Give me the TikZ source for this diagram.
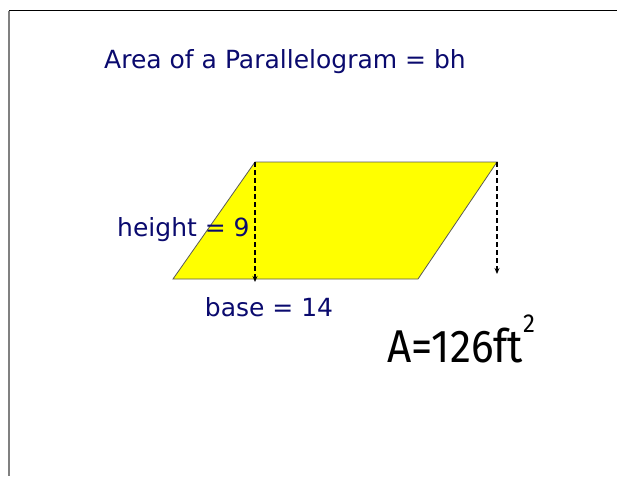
\documentclass[tikz,border=0pt]{standalone}
\usepackage{fontspec}
\usetikzlibrary{arrows.meta}
\setmainfont{DejaVu Sans}
\newfontfamily\handfont{Fira Sans}
\definecolor{navytext}{RGB}{10,10,110}
\definecolor{parafill}{RGB}{255,255,0}
\begin{document}
\begin{tikzpicture}[x=1pt,y=-1pt,
  lbl/.style={text=navytext,font=\fontsize{25}{27}\selectfont,inner sep=0pt},
  hgt/.style={draw=black,dash pattern=on 5pt off 3pt,line width=1.8pt,-{Stealth[length=6pt,width=5pt]}}]
\useasboundingbox (0,0) rectangle (617,476);
\draw[black,line width=1pt] (9,11) -- (617,11);
\draw[gray,line width=1.5pt] (9,11) -- (9,476);
\coordinate (bl) at (173,279);
\coordinate (br) at (418,279);
\coordinate (tr) at (497,162);
\coordinate (tl) at (255,162);
\coordinate (hb) at (255,282);
\coordinate (hr) at (497,274);
\fill[parafill,draw=gray!70!black,line width=0.8pt] (bl) -- (br) -- (tr) -- (tl) -- cycle;
\draw[hgt] (tl) -- (hb);
\draw[hgt] (tr) -- (hr);
\node[lbl] (title) at (285,62) {Area of a Parallelogram = bh};
\node[lbl,anchor=west] (height) at (117,230) {height = 9};
\node[lbl] (base) at (269,307) {base = 14};
\node[text=black,font=\handfont\fontsize{46}{48}\selectfont,inner sep=0pt,anchor=west,xscale=0.92] (area) at (387,339) {A=126ft\raisebox{30pt}{\fontsize{26}{28}\selectfont 2}};
\end{tikzpicture}
\end{document}
